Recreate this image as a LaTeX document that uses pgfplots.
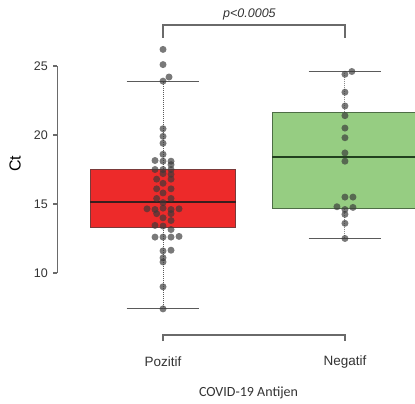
\documentclass[border=0pt]{standalone}
\usepackage{fontspec}
\setmainfont{Liberation Sans}
\newfontfamily\carlito{Carlito}
\usepackage{pgfplots}
\pgfplotsset{compat=1.18}
\definecolor{posred}{HTML}{ED2A2A}
\definecolor{posedge}{HTML}{7A3A3A}
\definecolor{posmed}{HTML}{3A1E1E}
\definecolor{neggreen}{HTML}{96CD82}
\definecolor{negedge}{HTML}{4E6E46}
\definecolor{negmed}{HTML}{22401F}
\definecolor{wgray}{HTML}{5A5A5A}
\definecolor{spine}{HTML}{6A6A6A}
\definecolor{ptcol}{HTML}{3A3A3A}
\definecolor{txt}{HTML}{333333}

\pgfplotstableread{
x y
0 26.2
0 25.1
0.033 24.2
0 23.9
0 20.45
0 19.9
0 19.4
0 18.6
-0.044 18.15
0 18.1
0.044 18.1
0.044 17.85
-0.044 17.5
0 17.5
0.044 17.5
0 17.2
0.044 17.15
-0.035 16.8
0.044 16.8
0 16.5
-0.035 16.1
0.044 16.1
0 15.8
-0.035 15.4
0.044 15.4
0 15.1
-0.088 14.65
-0.044 14.6
0 14.7
0.044 14.6
0.088 14.65
-0.035 14.3
0.044 14.3
0 14.0
0.044 13.8
-0.044 13.45
0 13.4
0.044 13.15
-0.044 12.6
0 12.6
0.044 12.6
0.088 12.65
0 11.6
0.044 11.65
0 11.1
0 10.8
0 9.0
0 7.4
}\posdata

\pgfplotstableread{
x y
1.038 24.6
1 24.4
1 23.1
1 22.1
1 21.4
1 20.5
1 19.8
1 18.7
1 18.1
1 15.5
1.044 15.5
0.956 14.8
1.044 14.75
1 14.6
1 14.25
1 13.6
1 12.5
}\negdata

\begin{document}
\begin{tikzpicture}
\begin{axis}[
  width=415pt, height=403pt, scale only axis,
  xmin=-0.896, xmax=1.385, ymin=0.58, ymax=29.78,
  hide axis, clip=true,
]
\path[draw=none] (rel axis cs:0,0) rectangle (rel axis cs:1,1);

% whiskers (vertical, dotted)
\addplot[wgray, line width=1pt, densely dotted] coordinates {(0,7.4) (0,23.9)};
\addplot[wgray!70, line width=1pt, densely dotted] coordinates {(1,12.5) (1,24.6)};

% boxes
\addplot[fill=posred, draw=posedge, line width=0.9pt, line join=miter] coordinates {(-0.4,13.3) (0.4,13.3) (0.4,17.5) (-0.4,17.5) (-0.4,13.3)};
\addplot[fill=neggreen, draw=negedge, line width=0.9pt, line join=miter] coordinates {(0.6,14.65) (1.45,14.65) (1.45,21.6) (0.6,21.6) (0.6,14.65)};

% medians
\addplot[posmed, line width=1.8pt] coordinates {(-0.4,15.15) (0.4,15.15)};
\addplot[negmed, line width=1.8pt] coordinates {(0.6,18.4) (1.45,18.4)};

% caps
\addplot[wgray, line width=1.1pt] coordinates {(-0.2,23.9) (0.2,23.9)};
\addplot[wgray, line width=1.1pt] coordinates {(-0.2,7.4) (0.2,7.4)};
\addplot[wgray, line width=1.1pt] coordinates {(0.8,24.6) (1.2,24.6)};
\addplot[wgray, line width=1.1pt] coordinates {(0.8,12.5) (1.2,12.5)};

% points
\addplot[only marks, mark=*, mark size=3.5pt, mark options={fill=ptcol, fill opacity=0.68, draw opacity=0, line width=0pt}] table {\posdata};
\addplot[only marks, mark=*, mark size=3.5pt, mark options={fill=ptcol, fill opacity=0.68, draw opacity=0, line width=0pt}] table {\negdata};

% y spine and ticks
\draw[spine, line width=1.1pt] (axis cs:-0.582,10) -- (axis cs:-0.582,25);
\draw[spine, line width=1.1pt] (axis cs:-0.604,10) -- (axis cs:-0.582,10);
\draw[spine, line width=1.1pt] (axis cs:-0.604,15) -- (axis cs:-0.582,15);
\draw[spine, line width=1.1pt] (axis cs:-0.604,20) -- (axis cs:-0.582,20);
\draw[spine, line width=1.1pt] (axis cs:-0.604,25) -- (axis cs:-0.582,25);
\node[anchor=east, text=txt, font=\fontsize{12.5}{14}\selectfont, inner sep=0pt] at (axis cs:-0.632,10) {10};
\node[anchor=east, text=txt, font=\fontsize{12.5}{14}\selectfont, inner sep=0pt] at (axis cs:-0.632,15) {15};
\node[anchor=east, text=txt, font=\fontsize{12.5}{14}\selectfont, inner sep=0pt] at (axis cs:-0.632,20) {20};
\node[anchor=east, text=txt, font=\fontsize{12.5}{14}\selectfont, inner sep=0pt] at (axis cs:-0.632,25) {25};
\node[rotate=90, text=black, font=\fontsize{16}{18}\selectfont] at (axis cs:-0.813,17.9) {Ct};

% x spine and ticks
\draw[spine, line width=1.1pt] (axis cs:0,5.07) -- (axis cs:0,5.51) -- (axis cs:1,5.51) -- (axis cs:1,5.07);
\node[text=txt, font=\fontsize{13.5}{15}\selectfont] at (axis cs:0,3.55) {Pozitif};
\node[text=txt, font=\fontsize{13.5}{15}\selectfont] at (axis cs:1,3.55) {Negatif};
\node[text=txt, font=\carlito\fontsize{14}{16}\selectfont] at (axis cs:0.47,1.3) {COVID-19 Antijen};

% significance bracket
\draw[spine, line width=1.1pt] (axis cs:0,27.05) -- (axis cs:0,27.97) -- (axis cs:1,27.97) -- (axis cs:1,27.05);
\node[text=txt, font=\itshape\fontsize{12.5}{14}\selectfont] at (axis cs:0.475,28.7) {p<0.0005};
\end{axis}
\end{tikzpicture}
\end{document}
